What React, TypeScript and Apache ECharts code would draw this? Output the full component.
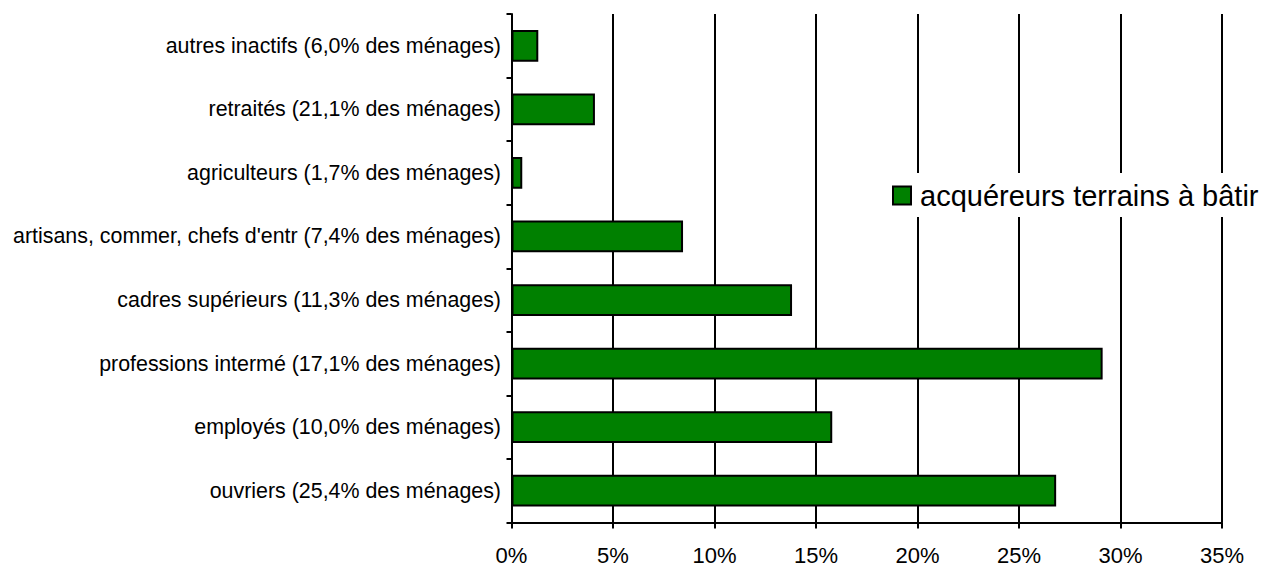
import React, { useEffect, useRef } from "react";
import * as echarts from "echarts";

const categories = [
  "ouvriers (25,4% des ménages)",
  "employés (10,0% des ménages)",
  "professions intermé (17,1% des ménages)",
  "cadres supérieurs (11,3% des ménages)",
  "artisans, commer, chefs d'entr (7,4% des ménages)",
  "agriculteurs (1,7% des ménages)",
  "retraités (21,1% des ménages)",
  "autres inactifs (6,0% des ménages)",
];
const seriesName = "acquéreurs terrains à bâtir";
const values = [26.83, 15.8, 29.12, 13.82, 8.45, 0.53, 4.11, 1.32];
const xTicks = { min: 0, max: 35, interval: 5 };

export default function App() {
  const ref = useRef<HTMLDivElement>(null);
  useEffect(() => {
    if (!ref.current) return;
    const chart = echarts.init(ref.current, undefined, { renderer: "svg" });
    const font = "'Liberation Sans', Arial, sans-serif";
    chart.setOption({
      animation: false,
      backgroundColor: "#ffffff",
      textStyle: { fontFamily: font, color: "#000" },
      grid: { left: 511.5, right: 41, top: 14, bottom: 45.5, containLabel: false },
      legend: {
        left: 890,
        top: 173,
        padding: [8, 2, 7, 2],
        backgroundColor: "#ffffff",
        itemWidth: 18,
        itemHeight: 18,
        itemGap: 0,
        icon: "rect",
        textStyle: { fontFamily: font, fontSize: 29, color: "#000", padding: [0, 0, 0, 4] },
        itemStyle: { borderColor: "#000", borderWidth: 2 },
        data: [seriesName],
      },
      xAxis: {
        type: "value",
        min: xTicks.min,
        max: xTicks.max,
        interval: xTicks.interval,
        axisLine: { show: true, lineStyle: { color: "#000", width: 2 } },
        axisTick: { show: true, length: 6, lineStyle: { color: "#000", width: 2 } },
        axisLabel: {
          formatter: "{value}%",
          fontFamily: font,
          fontSize: 22,
          color: "#000",
          margin: 22,
        },
        splitLine: { show: true, lineStyle: { color: "#000", width: 2 } },
      },
      yAxis: {
        type: "category",
        data: categories,
        axisLine: { show: true, lineStyle: { color: "#000", width: 2 } },
        axisTick: { show: true, length: 5, lineStyle: { color: "#000", width: 2 } },
        axisLabel: { fontFamily: font, fontSize: 21.4, color: "#000", margin: 10.5 },
        splitLine: { show: false },
      },
      series: [
        {
          name: seriesName,
          type: "bar",
          data: values,
          barCategoryGap: "50%",
          itemStyle: { color: "#008000", borderColor: "#000", borderWidth: 2 },
        },
      ],
    });
    return () => chart.dispose();
  }, []);
  return (
    <div
      ref={ref}
      style={{ position: "fixed", left: 0, top: 0, width: 1263, height: 568 }}
    />
  );
}
